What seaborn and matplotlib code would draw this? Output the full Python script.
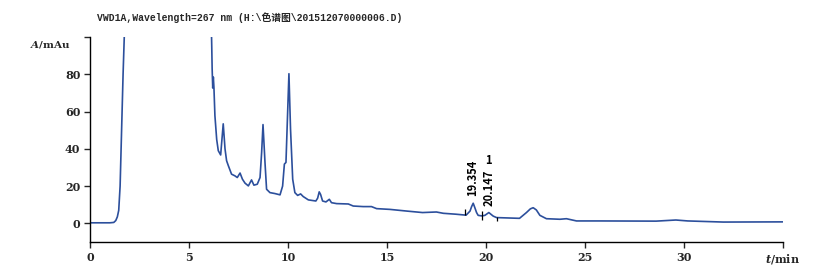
import numpy as np
import pandas as pd
import matplotlib
matplotlib.use("Agg")
import matplotlib.pyplot as plt
import seaborn as sns

# chromatogram trace (time in min, absorbance in mAu)
time_min = [0.0, 0.5, 1.0, 1.2, 1.3, 1.38, 1.45, 1.52, 1.57, 1.62, 1.67, 1.73,
            1.8, 1.9, 2.0, 2.3, 3.0, 4.0, 5.0, 5.8, 6.0, 6.1, 6.15, 6.17,
            6.2, 6.23, 6.26, 6.31, 6.4, 6.48, 6.6, 6.73, 6.82, 6.9, 6.99,
            7.15, 7.32, 7.44, 7.58, 7.7, 7.83, 8.0, 8.16, 8.28, 8.45, 8.59,
            8.67, 8.74, 8.84, 8.92, 9.09, 9.34, 9.6, 9.73, 9.82, 9.9, 10.05,
            10.13, 10.24, 10.35, 10.49, 10.64, 10.77, 11.03, 11.41, 11.5,
            11.58, 11.65, 11.75, 11.92, 12.09, 12.2, 12.46, 13.05, 13.3, 13.8,
            14.22, 14.48, 15.15, 16.0, 16.8, 17.5, 17.85, 18.5, 19.0, 19.2,
            19.28, 19.36, 19.44, 19.53, 19.61, 19.8, 19.95, 20.15, 20.37,
            20.54, 21.7, 22.05, 22.25, 22.39, 22.55, 22.73, 23.06, 23.74,
            24.07, 24.58, 25.76, 28.6, 29.6, 30.2, 32.0, 35.0]
absorbance = [0.3, 0.3, 0.3, 0.5, 1.5, 3.5, 7, 20, 40, 60, 80, 100,
              140, 300, 600, 900, 1200, 1000, 700, 300, 180, 120, 95, 83,
              72.6, 78.5, 73, 57.8, 45, 39, 36.7, 53.4, 40, 33.6, 30.9,
              26.4, 25.5, 24.6, 27, 23.7, 21.6, 20.1, 23.3, 20.5, 21, 24.6,
              38, 53, 32.7, 18.3, 16.5, 16, 15.3, 20, 31.8, 32.7, 80.3,
              50.7, 23.7, 16.5, 15, 15.8, 14.4, 12.6, 12, 13.5,
              16.9, 15.5, 12, 11.5, 12.9, 11.1, 10.6, 10.4, 9.3, 9,
              9, 7.9, 7.5, 6.6, 5.8, 6.1, 5.4, 4.9, 4.4, 6.6,
              9, 10.8, 8.5, 5.8, 4.3, 4.0, 4.3, 5.8, 3.9,
              3.1, 2.7, 5.8, 7.8, 8.4, 7.2, 4.3, 2.5, 2.2,
              2.5, 1.3, 1.3, 1.2, 1.8, 1.3, 0.7, 0.8]

# integrated peaks
peak_times = [19.354, 20.147]
peak_labels = ["19.354", "20.147"]
peak_label_base = [14.5, 9.3]
# integration markers: time, low, high
mark_t = [18.94, 19.82, 20.57]
mark_lo = [4.3, 1.6, 1.2]
mark_hi = [7.5, 6.6, 3.6]

x_ticks = [0, 5, 10, 15, 20, 25, 30, 35]
x_tick_labels = ["0", "5", "10", "15", "20", "25", "30", "$t$/min"]
y_ticks = [0, 20, 40, 60, 80, 100]
y_tick_labels = ["0", "20", "40", "60", "80", ""]

df = pd.DataFrame({"t": time_min, "A": absorbance})

sns.set_style("ticks")
plt.rcParams["font.family"] = ["DejaVu Serif"]
plt.rcParams["mathtext.fontset"] = "custom"
plt.rcParams["mathtext.it"] = "DejaVu Serif:italic:bold"
plt.rcParams["mathtext.rm"] = "DejaVu Serif:bold"

fig = plt.figure(figsize=(8.14, 2.68), dpi=100)
ax = fig.add_axes([0.1106, 0.097, 0.851, 0.765])

sns.lineplot(data=df, x="t", y="A", ax=ax, color="#2c4f9c", linewidth=1.2,
             sort=False, estimator=None)

ax.vlines(mark_t, mark_lo, mark_hi, color="black", linewidth=0.9)

label_font = ["Noto Sans CJK SC", "DejaVu Sans"]
for pt, lab, base in zip(peak_times, peak_labels, peak_label_base):
    ax.text(pt, base, lab, rotation=90, ha="center", va="bottom",
            fontsize=8, fontweight="bold", family=label_font, color="black")
ax.text(20.15, 33.5, "1", ha="center", va="center", fontsize=8,
        fontweight="bold", family=label_font, color="black")

ax.set_xlim(0, 35)
ax.set_ylim(-10, 100)
ax.set_xticks(x_ticks)
ax.set_xticklabels(x_tick_labels)
ax.set_yticks(y_ticks)
ax.set_yticklabels(y_tick_labels)
ax.tick_params(axis="both", length=4, width=1, labelsize=8, pad=3)
for lab in ax.get_xticklabels() + ax.get_yticklabels():
    lab.set_fontweight("bold")
ax.set_xlabel("")
ax.set_ylabel("")
sns.despine(ax=ax)
for side in ["left", "bottom"]:
    ax.spines[side].set_linewidth(1)
    ax.spines[side].set_color("black")

ax.text(-0.028, 0.965, "$A$/mAu", transform=ax.transAxes, ha="right",
        va="center", fontsize=7.5, fontweight="bold")

fig.text(0.119, 0.933,
         "VWD1A,Wavelength=267 nm (H:\\色谱图\\201512070000006.D)",
         fontsize=7, fontweight="bold",
         family=["Liberation Mono", "Noto Sans CJK SC"], va="center")

fig.savefig("out.png", dpi=100)
